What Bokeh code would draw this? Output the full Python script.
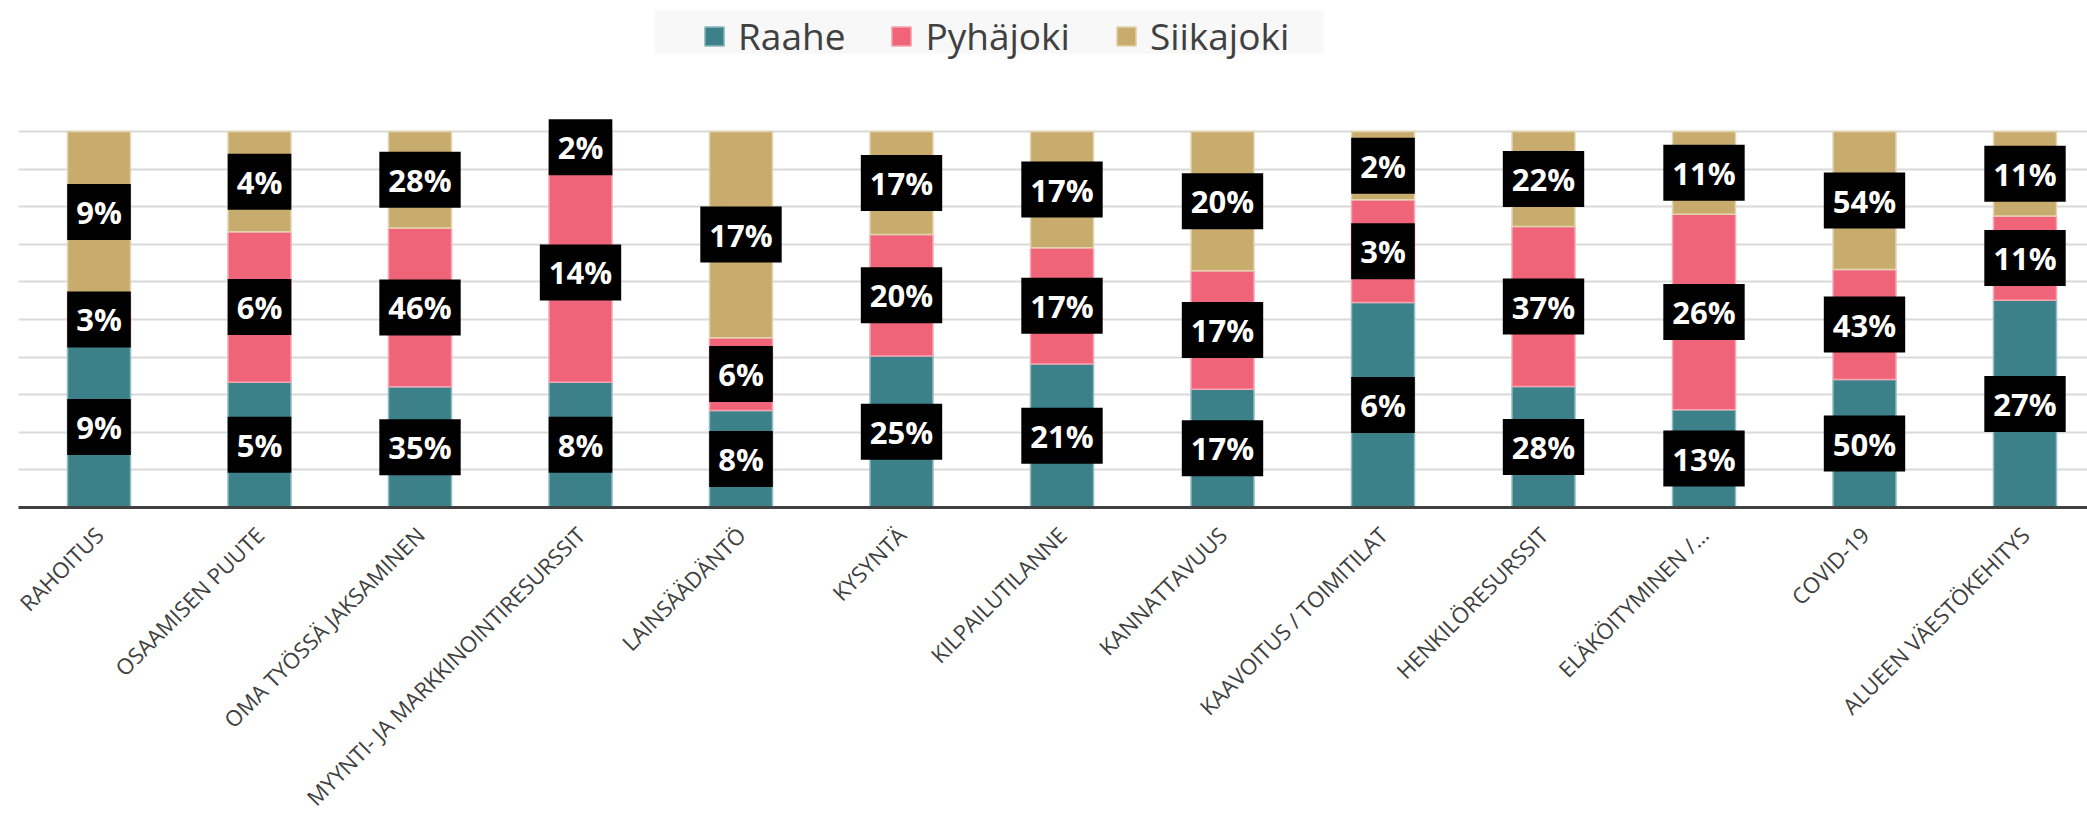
import numpy as np
from bokeh.plotting import figure
from bokeh.models import (Range1d, FixedTicker, Label, Legend, LegendItem,
                          ColumnDataSource, Grid, BoxAnnotation)
from bokeh.embed import file_html
from bokeh.resources import INLINE

# ---- data -------------------------------------------------------------
categories = ["RAHOITUS", "OSAAMISEN PUUTE", "OMA TYÖSSÄ JAKSAMINEN",
              "MYYNTI- JA MARKKINOINTIRESURSSIT", "LAINSÄÄDÄNTÖ", "KYSYNTÄ",
              "KILPAILUTILANNE", "KANNATTAVUUS", "KAAVOITUS / TOIMITILAT",
              "HENKILÖRESURSSIT", "ELÄKÖITYMINEN /…", "COVID-19",
              "ALUEEN VÄESTÖKEHITYS"]
raahe = [9, 5, 35, 8, 8, 25, 21, 17, 6, 28, 13, 50, 27]
pyhajoki = [3, 6, 46, 14, 6, 20, 17, 17, 3, 37, 26, 43, 11]
siikajoki = [9, 4, 28, 2, 17, 17, 17, 20, 2, 22, 11, 54, 11]
series_names = ["Raahe", "Pyhäjoki", "Siikajoki"]
grid_levels = [0.1, 0.2, 0.3, 0.4, 0.5, 0.6, 0.7, 0.8, 0.9, 1.0]

# ---- style ------------------------------------------------------------
fill_colors = ["#3C8189", "#EF6479", "#C8AC6E"]
edge_colors = ["#8DBBBF", "#F6A5B1", "#E3D5B0"]
TEXT = "#404040"

vals = np.array([raahe, pyhajoki, siikajoki], dtype=float)
frac = vals / vals.sum(axis=0)
tops = np.cumsum(frac, axis=0)
bottoms = tops - frac
xs = list(range(len(categories)))

p = figure(frame_width=2069, frame_height=507, output_backend="svg",
           toolbar_location=None,
           x_range=Range1d(-0.5016, 12.3894), y_range=Range1d(0, 1.3484),
           y_axis_location=None, min_border_left=18, min_border_right=0,
           min_border_top=0, min_border_bottom=0, outline_line_color=None,
           background_fill_color="white", border_fill_color="white")

# remove any default grids, add our own horizontal grid
for r in list(p.center):
    if isinstance(r, Grid):
        p.center.remove(r)
grid = Grid(dimension=1, ticker=FixedTicker(ticks=grid_levels),
            grid_line_color="#D9D9D9", grid_line_width=2)
p.add_layout(grid)

renderers = []
for k, name in enumerate(series_names):
    src = ColumnDataSource(dict(x=xs, top=tops[k], bottom=bottoms[k]))
    r = p.vbar(x="x", top="top", bottom="bottom", width=0.3925, source=src,
               fill_color=fill_colors[k], line_color=edge_colors[k],
               line_width=1.5)
    renderers.append(r)

for k in range(3):
    for i in xs:
        p.add_layout(Label(x=i, y=(tops[k][i] + bottoms[k][i]) / 2,
                           text=f"{int(vals[k][i])}%", text_align="center",
                           text_baseline="middle", text_font="Open Sans",
                           text_font_style="bold", text_font_size="31px",
                           text_color="white", background_fill_color="black",
                           padding=dict(left=9, right=9, top=7, bottom=7)))

ax = p.xaxis[0]
ax.ticker = FixedTicker(ticks=xs)
ax.major_label_overrides = {i: c for i, c in enumerate(categories)}
ax.major_label_orientation = np.pi / 4
ax.major_label_text_font = "Open Sans"
ax.major_label_text_font_size = "22px"
ax.major_label_text_color = TEXT
ax.major_label_standoff = 17
ax.major_tick_line_color = None
ax.minor_tick_line_color = None
ax.axis_line_color = "#404040"
ax.axis_line_width = 3

bg = BoxAnnotation(left=654, right=1323, top=10, bottom=53,
                   left_units="canvas", right_units="canvas",
                   top_units="canvas", bottom_units="canvas",
                   fill_color="#F8F8F8", fill_alpha=1, line_color=None)
p.add_layout(bg)

legend = Legend(items=[LegendItem(label=n, renderers=[r])
                       for n, r in zip(series_names, renderers)],
                orientation="horizontal", location=(684, 446),
                glyph_width=24, glyph_height=24, label_standoff=12, spacing=44,
                padding=0, margin=0, label_text_font="Open Sans",
                label_text_font_size="37px", label_text_color=TEXT,
                background_fill_alpha=0, border_line_color=None)
p.add_layout(legend)

open("out.html", "w").write(file_html(p, INLINE))
